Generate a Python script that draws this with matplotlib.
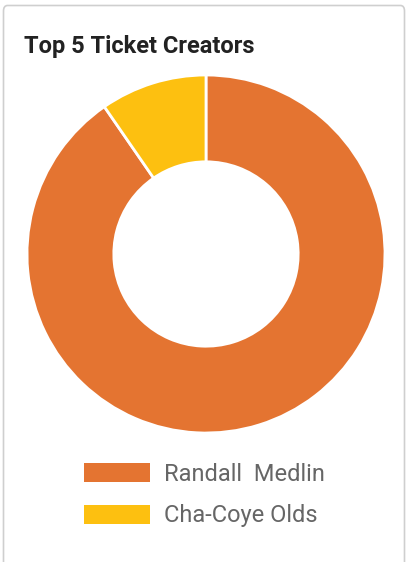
import matplotlib
matplotlib.use("Agg")
import matplotlib.pyplot as plt
from matplotlib.patches import FancyBboxPatch, Patch

plt.rcParams['font.family'] = ['Roboto', 'DejaVu Sans']

# data
creators = ['Randall  Medlin', 'Cha-Coye Olds']
tickets = [94, 10]
colors = ['#E47431', '#FDC010']

W, H = 409, 562
fig = plt.figure(figsize=(W / 100, H / 100), dpi=100)

# card background with rounded border
card = FancyBboxPatch((3.5 / W, -0.05), (401 / W), 1.05 - 5.5 / H,
                      boxstyle="round,pad=0,rounding_size=0.01",
                      transform=fig.transFigure, facecolor='white',
                      edgecolor='#cfcfcf', linewidth=1.2, zorder=-5)
fig.patches.append(card)

fig.text(24 / W, 1 - 46 / H, 'Top 5 Ticket Creators', fontsize=17,
         fontweight='bold', color='#222222', va='center', ha='left')

ax = fig.add_axes([27 / W, (H - 433) / H, 358 / W, 358 / H])
ax.set_zorder(2)
wedges, _ = ax.pie(tickets, colors=colors, startangle=90, counterclock=False,
                   radius=1, wedgeprops=dict(width=0.485, edgecolor='white', linewidth=2))
ax.set_xlim(-1, 1)
ax.set_ylim(-1, 1)
ax.set_aspect('equal')
ax.axis('off')

handles = [Patch(facecolor=c, edgecolor='none') for c in colors]
leg = fig.legend(handles, creators, loc='upper left', bbox_to_anchor=(84 / W, 1 - 463 / H),
                 frameon=False, fontsize=17, labelcolor='#666666',
                 handlelength=2.8, handleheight=0.85, handletextpad=0.6,
                 labelspacing=0.78, borderpad=0, borderaxespad=0)
leg.set_zorder(3)

fig.savefig('out.png', dpi=100)
